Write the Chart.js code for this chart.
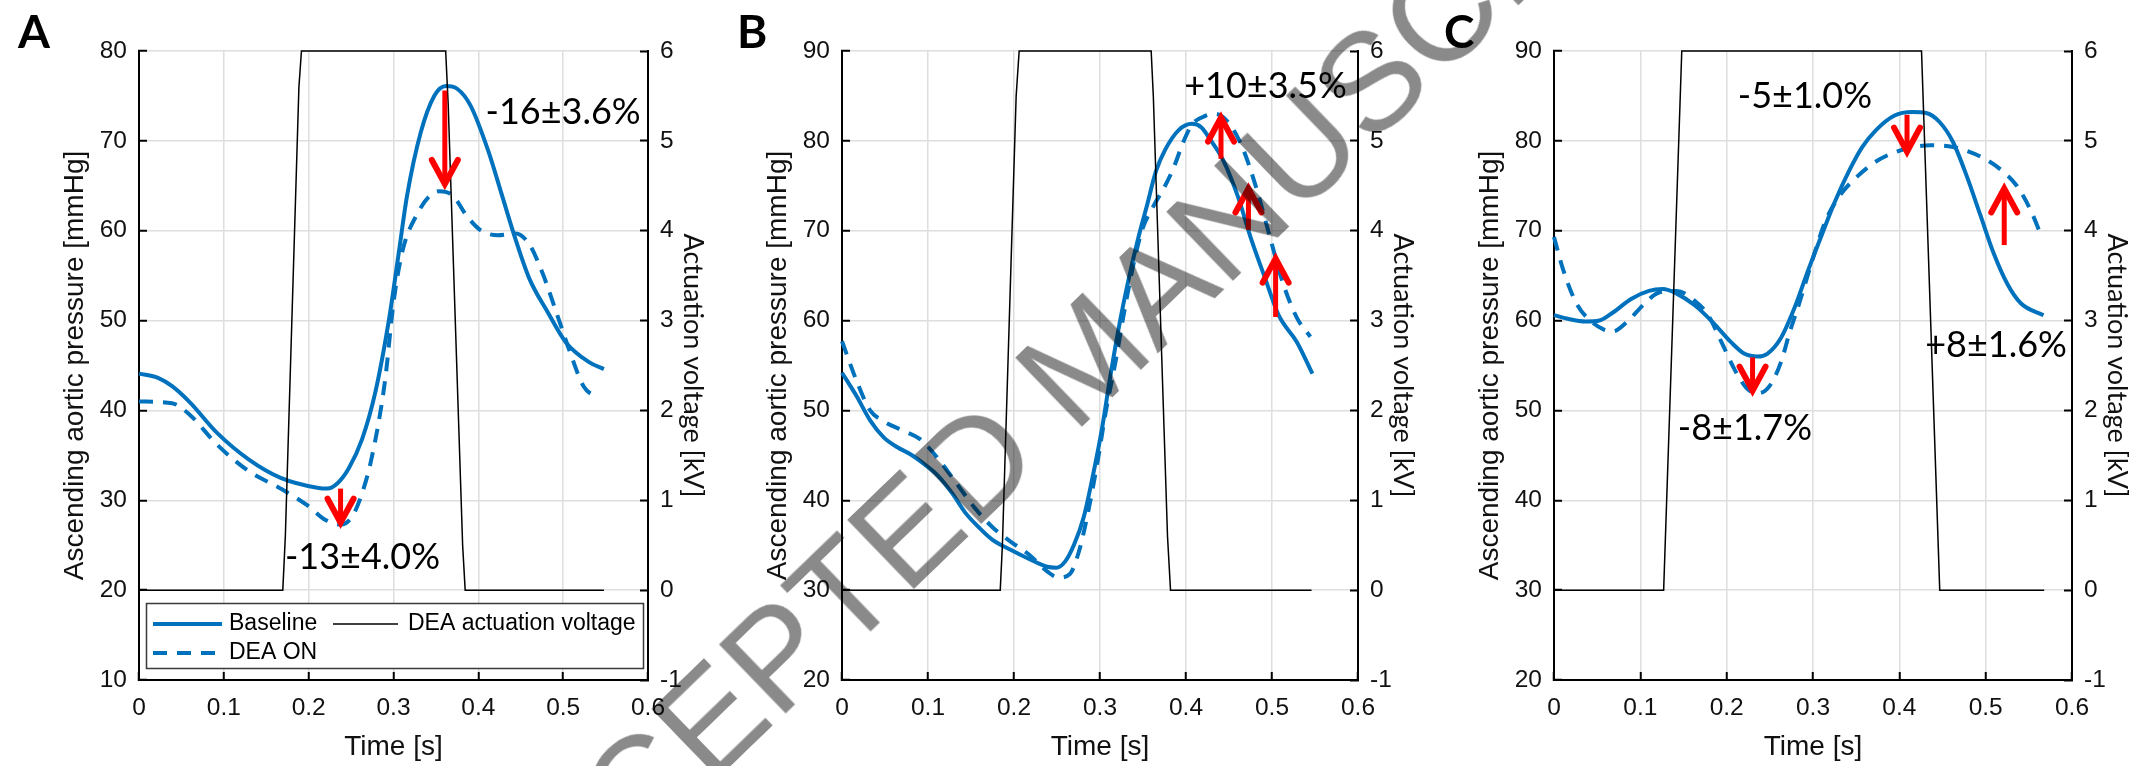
<!DOCTYPE html>
<html>
<head>
<meta charset="utf-8">
<script src="https://cdn.jsdelivr.net/npm/chart.js@4.4.0/dist/chart.umd.min.js"></script>
<style>
  body { margin: 0; background: #fff; }
  #page { position: relative; width: 2134px; height: 766px; overflow: hidden; background: #fff; }
  .panel { position: absolute; top: 0; }
  #watermark {
    position: absolute; left: 1085px; top: 357px;
    transform: translate(-50%, -50%) rotate(-44deg);
    font: 140px 'Liberation Sans', Arial, sans-serif;
    color: rgba(0, 0, 0, 0.46);
    white-space: nowrap; line-height: 1; pointer-events: none;
  }
</style>
</head>
<body>
<div id="page">
  <canvas id="chartA" class="panel" style="left:0px" width="711" height="766"></canvas>
  <canvas id="chartB" class="panel" style="left:711px" width="711" height="766"></canvas>
  <canvas id="chartC" class="panel" style="left:1422px" width="712" height="766"></canvas>
  <div id="watermark">ACCEPTED MANUSCRIPT</div>
</div>
<script>
// ----------------------- Data ----------------------------------
const xTicks = [0, 0.1, 0.2, 0.3, 0.4, 0.5, 0.6];
const xTickLabels = ['0', '0.1', '0.2', '0.3', '0.4', '0.5', '0.6'];
const pressureTicksA = [10, 20, 30, 40, 50, 60, 70, 80];
const pressureTicksBC = [20, 30, 40, 50, 60, 70, 80, 90];
const voltageTicks = [-1, 0, 1, 2, 3, 4, 5, 6];

// Panel A
const baselineA_t = [0, 0.023, 0.039, 0.060, 0.092, 0.130, 0.167, 0.210, 0.222, 0.234, 0.247, 0.263, 0.279, 0.295, 0.306, 0.316, 0.332, 0.348, 0.362, 0.375, 0.391, 0.412, 0.428, 0.444, 0.460, 0.482, 0.503, 0.530, 0.548];
const baselineA_p = [44.1, 43.6, 42.7, 40.9, 37.5, 34.5, 32.5, 31.4, 31.3, 31.9, 33.5, 36.8, 42.2, 50.3, 57.4, 63.9, 70.9, 75.0, 76.1, 75.8, 73.9, 68.8, 63.9, 59.0, 54.7, 50.9, 47.6, 45.4, 44.6];
const deaOnA_t = [0, 0.039, 0.060, 0.092, 0.130, 0.167, 0.199, 0.220, 0.238, 0.252, 0.263, 0.274, 0.290, 0.300, 0.311, 0.327, 0.343, 0.354, 0.370, 0.386, 0.402, 0.423, 0.444, 0.460, 0.476, 0.492, 0.508, 0.524, 0.540];
const deaOnA_p = [41.0, 40.8, 39.5, 36.2, 33.2, 31.3, 29.4, 27.8, 27.3, 28.3, 30.8, 34.6, 43.3, 52.0, 57.9, 61.7, 63.9, 64.4, 63.9, 61.7, 60.1, 59.5, 59.7, 58.5, 55.2, 50.9, 46.5, 42.7, 41.4];
const voltageA_t = [0, 0.1695, 0.1725, 0.1885, 0.1915, 0.3615, 0.3645, 0.3815, 0.3845, 0.548];
const voltageA_kv = [0, 0, 0.6, 5.6, 6, 6, 5.4, 0.5, 0, 0];

// Panel B
const baselineB_t = [0, 0.0169, 0.0327, 0.0485, 0.0644, 0.080, 0.096, 0.112, 0.128, 0.1435, 0.159, 0.175, 0.196, 0.217, 0.2385, 0.249, 0.2596, 0.270, 0.281, 0.291, 0.302, 0.312, 0.323, 0.3335, 0.344, 0.3546, 0.365, 0.3757, 0.3915, 0.407, 0.418, 0.4285, 0.444, 0.460, 0.476, 0.492, 0.5077, 0.529, 0.547];
const baselineB_p = [54.2, 51.6, 48.9, 47.0, 45.9, 45.1, 44.0, 42.7, 40.8, 38.6, 37.0, 35.6, 34.5, 33.5, 32.6, 32.5, 33.2, 35.1, 38.1, 42.4, 47.8, 53.8, 59.8, 64.7, 69.0, 72.8, 76.6, 79.0, 81.2, 81.9, 81.5, 80.1, 77.7, 73.9, 69.0, 64.7, 60.6, 57.6, 54.1];
const deaOnB_t = [0, 0.0169, 0.0327, 0.0485, 0.0697, 0.0908, 0.112, 0.133, 0.154, 0.175, 0.196, 0.217, 0.2385, 0.2517, 0.265, 0.2755, 0.286, 0.2966, 0.307, 0.318, 0.328, 0.339, 0.349, 0.3625, 0.3757, 0.386, 0.397, 0.407, 0.423, 0.434, 0.4496, 0.4654, 0.481, 0.497, 0.513, 0.529, 0.5446];
const deaOnB_p = [57.7, 53.3, 50.0, 48.8, 47.8, 46.8, 44.6, 41.9, 39.2, 37.0, 35.4, 34.0, 32.1, 31.4, 31.8, 34.3, 38.6, 44.0, 50.0, 55.4, 60.9, 66.3, 70.1, 72.8, 75.0, 77.1, 79.9, 81.8, 82.8, 83.0, 82.0, 79.3, 75.0, 69.5, 64.1, 60.3, 58.2];
const voltageB_t = [0, 0.184, 0.1865, 0.2025, 0.206, 0.3595, 0.362, 0.3785, 0.382, 0.546];
const voltageB_kv = [0, 0, 0.5, 5.5, 6, 6, 5.5, 0.6, 0, 0];

// Panel C
const baselineC_t = [0, 0.0158, 0.0368, 0.0525, 0.0683, 0.0893, 0.110, 0.126, 0.142, 0.163, 0.184, 0.205, 0.2207, 0.236, 0.247, 0.263, 0.2785, 0.294, 0.310, 0.3257, 0.3415, 0.357, 0.373, 0.394, 0.415, 0.431, 0.4466, 0.462, 0.478, 0.494, 0.5096, 0.525, 0.541, 0.567];
const baselineC_p = [60.6, 60.2, 59.9, 60.0, 60.9, 62.4, 63.3, 63.5, 63.0, 61.7, 59.8, 57.6, 56.3, 56.0, 56.3, 58.1, 61.4, 65.5, 69.5, 73.3, 76.6, 79.3, 81.2, 82.8, 83.2, 83.1, 82.1, 79.9, 76.1, 71.7, 67.4, 64.1, 61.9, 60.6];
const deaOnC_t = [0, 0.0105, 0.026, 0.042, 0.0578, 0.0683, 0.084, 0.105, 0.121, 0.142, 0.163, 0.1786, 0.194, 0.210, 0.223, 0.236, 0.2496, 0.263, 0.273, 0.284, 0.2995, 0.315, 0.331, 0.352, 0.373, 0.394, 0.415, 0.436, 0.457, 0.478, 0.499, 0.520, 0.536, 0.552, 0.565];
const deaOnC_p = [69.3, 65.7, 61.9, 60.0, 59.0, 58.8, 59.8, 61.9, 63.1, 63.3, 62.2, 60.6, 57.6, 54.4, 52.5, 51.9, 52.7, 55.4, 58.7, 61.9, 66.8, 71.2, 73.9, 76.1, 77.7, 78.7, 79.3, 79.5, 79.4, 78.9, 78.0, 76.6, 75.0, 72.3, 69.3];
const voltageC_t = [0, 0.127, 0.148, 0.4257, 0.4468, 0.5678];
const voltageC_kv = [0, 0, 6, 6, 0, 0];

// Annotations (text, time, pressure of text baseline)
const notesA_text = ['-16±3.6%', '-13±4.0%'];
const notesA_t = [0.500, 0.2635];
const notesA_p = [71.9, 22.35];
const notesB_text = ['+10±3.5%'];
const notesB_t = [0.4924];
const notesB_p = [84.8];
const notesC_text = ['-5±1.0%', '-8±1.7%', '+8±1.6%'];
const notesC_t = [0.2907, 0.2212, 0.512];
const notesC_p = [83.7, 46.7, 55.95];

// Red arrows (time, from pressure, to pressure)
const arrowsA_t = [0.3605, 0.2376];
const arrowsA_from = [75.6, 31.3];
const arrowsA_to = [65.2, 27.5];
const arrowsB_t = [0.4407, 0.4726, 0.5042];
const arrowsB_from = [78.0, 70.1, 60.4];
const arrowsB_to = [82.6, 74.7, 66.9];
const arrowsC_t = [0.4089, 0.230, 0.5215];
const arrowsC_from = [82.9, 55.9, 68.4];
const arrowsC_to = [78.8, 52.2, 74.7];

// ----------------------- Styling ----------------------------------
const BLUE = '#0072BD';
const TEXT = '#111111';
const GRID = '#dedede';
const ARIAL = "'Liberation Sans', Arial, sans-serif";
const CALIBRI = "Lato, 'Open Sans', sans-serif";

function points(ts, vs) {
  return ts.map((t, i) => ({ x: t, y: vs[i] }));
}

function fixedTicks(values) {
  return scale => { scale.ticks = values.map(v => ({ value: v })); };
}

// plugin drawing arrows, annotation texts, panel letter and legend
function makeExtras(p) {
  return {
    id: 'extras',
    afterDatasetsDraw(chart) {
      const ctx = chart.ctx;
      const xs = chart.scales.x, ys = chart.scales.y;
      ctx.save();

      // red arrows
      p.arrowT.forEach((t, i) => {
        const px = xs.getPixelForValue(t);
        const y0 = ys.getPixelForValue(p.arrowFrom[i]);
        const y1 = ys.getPixelForValue(p.arrowTo[i]);
        const dir = Math.sign(y1 - y0);
        ctx.strokeStyle = '#ff0000';
        ctx.lineWidth = 5;
        ctx.lineCap = 'butt';
        ctx.beginPath();
        ctx.moveTo(px, y0);
        ctx.lineTo(px, y1 - dir * 4);
        ctx.stroke();
        ctx.lineWidth = 6;
        ctx.lineCap = 'round';
        ctx.lineJoin = 'miter';
        ctx.beginPath();
        ctx.moveTo(px - 13, y1 - dir * 24);
        ctx.lineTo(px, y1);
        ctx.lineTo(px + 13, y1 - dir * 24);
        ctx.stroke();
      });

      // annotation texts
      ctx.fillStyle = '#000';
      ctx.font = '36px ' + CALIBRI;
      ctx.textAlign = 'center';
      ctx.textBaseline = 'alphabetic';
      p.noteText.forEach((s, i) => {
        ctx.fillText(s, xs.getPixelForValue(p.noteT[i]), ys.getPixelForValue(p.noteP[i]));
      });

      // panel letter
      ctx.font = 'bold 46px ' + CALIBRI;
      ctx.textAlign = 'left';
      ctx.fillText(p.letter, p.letterX, 48);

      // legend (panel A only)
      if (p.legend) {
        const L = { x: 146, y: 603, w: 498, h: 66 };
        ctx.fillStyle = '#fff';
        ctx.fillRect(L.x, L.y, L.w, L.h);
        ctx.strokeStyle = '#3a3a3a';
        ctx.lineWidth = 1.5;
        ctx.strokeRect(L.x + 0.5, L.y + 0.5, L.w - 1, L.h - 1);
        const row1 = L.y + 21, row2 = L.y + 50;
        ctx.lineCap = 'butt';
        ctx.strokeStyle = BLUE; ctx.lineWidth = 4;
        ctx.beginPath(); ctx.moveTo(L.x + 7, row1); ctx.lineTo(L.x + 76, row1); ctx.stroke();
        ctx.setLineDash([14, 10]);
        ctx.beginPath(); ctx.moveTo(L.x + 7, row2); ctx.lineTo(L.x + 76, row2); ctx.stroke();
        ctx.setLineDash([]);
        ctx.strokeStyle = '#000'; ctx.lineWidth = 1.5;
        ctx.beginPath(); ctx.moveTo(L.x + 187, row1); ctx.lineTo(L.x + 252, row1); ctx.stroke();
        ctx.fillStyle = '#000';
        ctx.font = '23px ' + ARIAL;
        ctx.textBaseline = 'middle';
        ctx.fillText('Baseline', L.x + 83, row1);
        ctx.fillText('DEA actuation voltage', L.x + 262, row1);
        ctx.fillText('DEA ON', L.x + 83, row2);
      }
      ctx.restore();
    }
  };
}

function makePanel(id, p) {
  const canvas = document.getElementById(id);
  const W = canvas.width, H = canvas.height;
  const tickFont = { family: ARIAL, size: 24.5 };
  return new Chart(canvas, {
    type: 'line',
    data: {
      datasets: [
        {
          label: 'DEA actuation voltage',
          data: points(p.voltT, p.voltKv),
          yAxisID: 'y1',
          borderColor: '#000',
          borderWidth: 1.5,
          pointRadius: 0,
          tension: 0,
          clip: 4
        },
        {
          label: 'Baseline',
          data: points(p.baseT, p.baseP),
          yAxisID: 'y',
          borderColor: BLUE,
          borderWidth: 4,
          pointRadius: 0,
          cubicInterpolationMode: 'monotone',
          clip: 4
        },
        {
          label: 'DEA ON',
          data: points(p.onT, p.onP),
          yAxisID: 'y',
          borderColor: BLUE,
          borderWidth: 4,
          borderDash: [14, 10],
          pointRadius: 0,
          cubicInterpolationMode: 'monotone',
          clip: 4
        }
      ]
    },
    options: {
      responsive: false,
      animation: false,
      devicePixelRatio: 1,
      layout: { padding: { top: 51, left: 0, right: 0, bottom: 0 } },
      plugins: { legend: { display: false }, tooltip: { enabled: false } },
      scales: {
        x: {
          type: 'linear',
          min: 0, max: 0.6,
          afterBuildTicks: fixedTicks(xTicks),
          afterFit: s => { s.height = H - 680; },
          ticks: {
            font: tickFont, color: TEXT, padding: 22, maxRotation: 0,
            callback: v => xTickLabels[xTicks.indexOf(v)]
          },
          grid: { color: GRID, lineWidth: 1.5, drawTicks: true, tickLength: -8, tickColor: '#000', tickWidth: 2 },
          border: { color: '#000', width: 2 },
          title: { display: true, text: 'Time [s]', color: TEXT, font: { family: ARIAL, size: 28 }, padding: { top: 0, bottom: 2 } }
        },
        y: {
          type: 'linear', position: 'left',
          min: p.pTicks[0], max: p.pTicks[p.pTicks.length - 1],
          afterBuildTicks: fixedTicks(p.pTicks),
          afterFit: s => { s.width = p.left; },
          ticks: { font: tickFont, color: TEXT, padding: 20 },
          grid: { color: GRID, lineWidth: 1.5, drawTicks: true, tickLength: -8, tickColor: '#000', tickWidth: 2 },
          border: { color: '#000', width: 2 },
          title: { display: true, text: 'Ascending aortic pressure [mmHg]', color: TEXT, font: { family: ARIAL, size: 28 }, padding: { top: p.left - 64 - 16.8, bottom: 0 } }
        },
        y1: {
          type: 'linear', position: 'right',
          min: -1, max: 6,
          afterBuildTicks: fixedTicks(voltageTicks),
          afterFit: s => { s.width = W - p.right; },
          ticks: { font: tickFont, color: TEXT, padding: 20 },
          grid: { drawOnChartArea: false, drawTicks: true, tickLength: -8, tickColor: '#000', tickWidth: 2 },
          border: { color: '#000', width: 2 },
          title: { display: true, text: 'Actuation voltage [kV]', color: TEXT, font: { family: CALIBRI, size: 27 }, padding: { top: W - p.right - 45 - 16.2, bottom: 0 } }
        }
      }
    },
    plugins: [makeExtras(p)]
  });
}

// ----------------------- Build panels ----------------------------------
makePanel('chartA', {
  left: 139, right: 648, pTicks: pressureTicksA,
  baseT: baselineA_t, baseP: baselineA_p, onT: deaOnA_t, onP: deaOnA_p,
  voltT: voltageA_t, voltKv: voltageA_kv,
  noteText: notesA_text, noteT: notesA_t, noteP: notesA_p,
  arrowT: arrowsA_t, arrowFrom: arrowsA_from, arrowTo: arrowsA_to,
  letter: 'A', letterX: 18, legend: true
});
makePanel('chartB', {
  left: 131, right: 647, pTicks: pressureTicksBC,
  baseT: baselineB_t, baseP: baselineB_p, onT: deaOnB_t, onP: deaOnB_p,
  voltT: voltageB_t, voltKv: voltageB_kv,
  noteText: notesB_text, noteT: notesB_t, noteP: notesB_p,
  arrowT: arrowsB_t, arrowFrom: arrowsB_from, arrowTo: arrowsB_to,
  letter: 'B', letterX: 26, legend: false
});
makePanel('chartC', {
  left: 132, right: 650, pTicks: pressureTicksBC,
  baseT: baselineC_t, baseP: baselineC_p, onT: deaOnC_t, onP: deaOnC_p,
  voltT: voltageC_t, voltKv: voltageC_kv,
  noteText: notesC_text, noteT: notesC_t, noteP: notesC_p,
  arrowT: arrowsC_t, arrowFrom: arrowsC_from, arrowTo: arrowsC_to,
  letter: 'C', letterX: 22, legend: false
});
</script>
</body>
</html>
